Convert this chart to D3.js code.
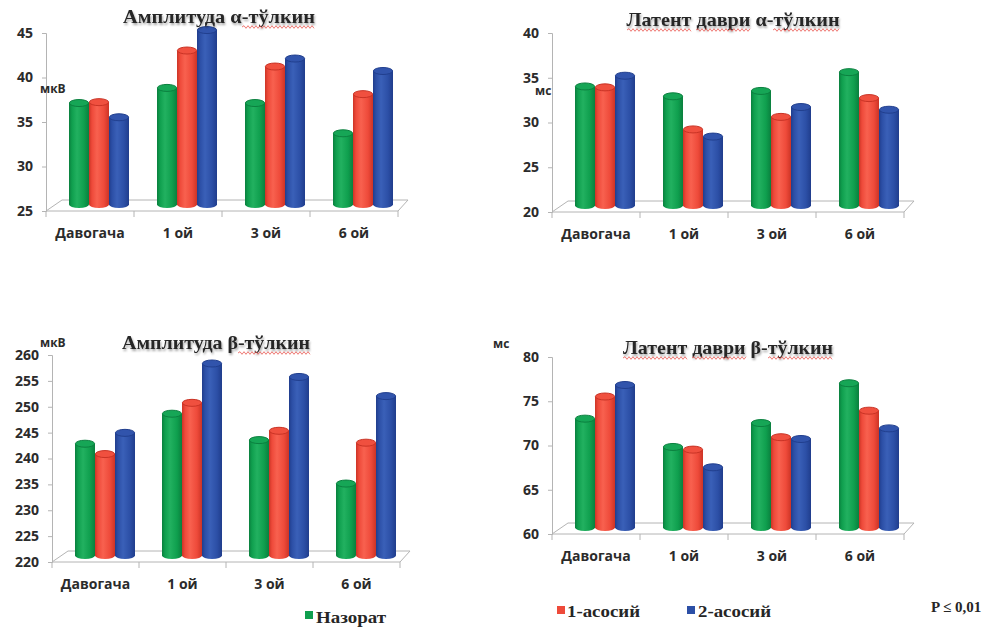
<!DOCTYPE html>
<html>
<head>
<meta charset="utf-8">
<script src="https://cdn.jsdelivr.net/npm/d3@7"></script>
<style>
  body { margin: 0; background: #fff; }
  svg { display: block; }
</style>
</head>
<body>
<svg id="chart" width="989" height="628"></svg>
<script>
// ---- data ----
const categories = ["Давогача", "1 ой", "3 ой", "6 ой"];
const seriesNames = ["Назорат", "1-асосий", "2-асосий"];

// Амплитуда α-тўлкин (мкВ)
const ampAlphaNazorat = [36.4, 38.1, 36.4, 33.0];
const ampAlphaAsosiy1 = [36.5, 42.3, 40.5, 37.4];
const ampAlphaAsosiy2 = [34.8, 44.6, 41.4, 40.0];
const ampAlphaTicks = [25, 30, 35, 40, 45];

// Латент даври α-тўлкин (мс)
const latAlphaNazorat = [33.3, 32.2, 32.8, 34.9];
const latAlphaAsosiy1 = [33.2, 28.5, 29.9, 32.0];
const latAlphaAsosiy2 = [34.5, 27.7, 31.0, 30.7];
const latAlphaTicks = [20, 25, 30, 35, 40];

// Амплитуда β-тўлкин (мкВ)
const ampBetaNazorat = [241.6, 247.4, 242.3, 233.9];
const ampBetaAsosiy1 = [239.6, 249.5, 244.1, 241.8];
const ampBetaAsosiy2 = [243.7, 257.1, 254.5, 250.8];
const ampBetaTicks = [220, 225, 230, 235, 240, 245, 250, 255, 260];

// Латент даври β-тўлкин (мс)
const latBetaNazorat = [72.3, 69.1, 71.8, 76.3];
const latBetaAsosiy1 = [74.8, 68.8, 70.2, 73.2];
const latBetaAsosiy2 = [76.1, 66.8, 70.0, 71.2];
const latBetaTicks = [60, 65, 70, 75, 80];

// ---- styling ----
const seriesColors = [
  { base: "#0f9f4e", light: "#22b160", dark: "#0a7f3e", top: "#16a656", rim: "#0b803f" },
  { base: "#ee4a3a", light: "#f8614f", dark: "#cc3426", top: "#f0503f", rim: "#c93325" },
  { base: "#2c4fa6", light: "#3a60b8", dark: "#203d8c", top: "#3154ac", rim: "#213f8e" }
];

const svg = d3.select("#chart");
const defs = svg.append("defs");

seriesColors.forEach((c, i) => {
  const g = defs.append("linearGradient").attr("id", "cyl" + i)
    .attr("x1", "0%").attr("x2", "100%").attr("y1", "0%").attr("y2", "0%");
  g.append("stop").attr("offset", "0%").attr("stop-color", c.dark);
  g.append("stop").attr("offset", "15%").attr("stop-color", c.base);
  g.append("stop").attr("offset", "40%").attr("stop-color", c.light);
  g.append("stop").attr("offset", "75%").attr("stop-color", c.base);
  g.append("stop").attr("offset", "100%").attr("stop-color", c.dark);
});

const shadow = defs.append("filter").attr("id", "tshadow")
  .attr("x", "-5%").attr("y", "-30%").attr("width", "110%").attr("height", "160%");
shadow.append("feGaussianBlur").attr("in", "SourceAlpha").attr("stdDeviation", 1.2).attr("result", "b");
shadow.append("feOffset").attr("in", "b").attr("dx", 1).attr("dy", 1.5).attr("result", "o");
shadow.append("feComponentTransfer").attr("in", "o").attr("result", "s")
  .append("feFuncA").attr("type", "linear").attr("slope", 0.35);
const merge = shadow.append("feMerge");
merge.append("feMergeNode").attr("in", "s");
merge.append("feMergeNode").attr("in", "SourceGraphic");

const panels = [
  { title: "Амплитуда α-тўлкин", underline: [[11, 18]], unit: "мкВ",
    series: [ampAlphaNazorat, ampAlphaAsosiy1, ampAlphaAsosiy2], ticks: ampAlphaTicks,
    x0: 46, yBase: 211, yTop: 33, band: 88, tx: 219, ty: 23, tw: 192, ux: 40, uy: 93 },
  { title: "Латент даври α-тўлкин", underline: [[0, 6], [7, 12], [15, 21]], unit: "мс",
    series: [latAlphaNazorat, latAlphaAsosiy1, latAlphaAsosiy2], ticks: latAlphaTicks,
    x0: 552, yBase: 212, yTop: 33, band: 88, tx: 733, ty: 26, tw: 213, ux: 535, uy: 95 },
  { title: "Амплитуда β-тўлкин", underline: [[11, 18]], unit: "мкВ",
    series: [ampBetaNazorat, ampBetaAsosiy1, ampBetaAsosiy2], ticks: ampBetaTicks,
    x0: 52, yBase: 562, yTop: 355, band: 87, tx: 216, ty: 349, tw: 188, ux: 40, uy: 347 },
  { title: "Латент даври β-тўлкин", underline: [[0, 6], [7, 12], [15, 21]], unit: "мс",
    series: [latBetaNazorat, latBetaAsosiy1, latBetaAsosiy2], ticks: latBetaTicks,
    x0: 552, yBase: 534, yTop: 357, band: 88, tx: 728, ty: 354, tw: 210, ux: 493, uy: 348 }
];

const axisColor = "#b4b4b4";
const depthL = 16, depthR = 10, depthY = 11;
const barW = 20, ry = 3.5, lift = 6.5;

function wavy(x1, x2, y) {
  let d = "M" + x1 + "," + y;
  let up = true;
  for (let x = x1 + 2; x <= x2; x += 2) {
    d += " L" + x + "," + (y + (up ? -1.3 : 1.3));
    up = !up;
  }
  return d;
}

panels.forEach(p => {
  const g = svg.append("g");
  const xEnd = p.x0 + p.band * categories.length;
  const y = d3.scaleLinear()
    .domain([p.ticks[0], p.ticks[p.ticks.length - 1]])
    .range([p.yBase, p.yTop]);
  const x = d3.scaleBand().domain(categories).range([p.x0, xEnd]).padding(0);
  const xs = d3.scaleBand().domain(seriesNames).range([23, 23 + barW * 3]).padding(0);

  // floor of the 3-D plot area
  g.append("path")
    .attr("d", `M${p.x0},${p.yBase} L${p.x0 + depthL},${p.yBase - depthY} L${xEnd + depthR},${p.yBase - depthY} L${xEnd},${p.yBase}`)
    .attr("fill", "none").attr("stroke", axisColor).attr("stroke-width", 1);

  // value axis
  const yAxis = d3.axisLeft(y).tickValues(p.ticks).tickSize(4).tickPadding(9).tickFormat(d3.format("d"));
  const ya = g.append("g").attr("transform", `translate(${p.x0},0)`).call(yAxis);
  ya.select(".domain").attr("stroke", axisColor);
  ya.selectAll(".tick line").attr("stroke", axisColor);
  ya.selectAll(".tick text")
    .attr("fill", "#2b2b2b").attr("font-family", "'Open Sans', sans-serif")
    .attr("font-weight", "bold").attr("font-size", 14);

  // category axis
  const xAxis = d3.axisBottom(x).tickSize(0).tickPadding(0);
  const xa = g.append("g").attr("transform", `translate(0,${p.yBase})`).call(xAxis);
  xa.select(".domain").attr("stroke", axisColor).attr("d", `M${p.x0},0H${xEnd}`);
  xa.selectAll(".tick text")
    .attr("y", 27).attr("dy", 0)
    .attr("fill", "#2b2b2b").attr("font-family", "'Open Sans', sans-serif")
    .attr("font-weight", "bold").attr("font-size", 14);
  g.append("g").selectAll("line")
    .data(d3.range(categories.length + 1))
    .join("line")
    .attr("x1", i => p.x0 + i * p.band).attr("x2", i => p.x0 + i * p.band)
    .attr("y1", p.yBase).attr("y2", p.yBase + 6)
    .attr("stroke", axisColor);

  // cylinders
  categories.forEach((cat, ci) => {
    p.series.forEach((vals, si) => {
      const c = seriesColors[si];
      const xl = x(cat) + xs(seriesNames[si]);
      const cx = xl + barW / 2;
      const yb = y(p.ticks[0]) - lift;
      const yt = y(vals[ci]) - lift;
      const bar = g.append("g");
      bar.append("path")
        .attr("d", `M${xl},${yt} L${xl},${yb} A${barW / 2},${ry} 0 0 0 ${xl + barW},${yb} L${xl + barW},${yt} Z`)
        .attr("fill", `url(#cyl${si})`);
      bar.append("ellipse")
        .attr("cx", cx).attr("cy", yt).attr("rx", barW / 2 - 0.4).attr("ry", ry)
        .attr("fill", c.top).attr("stroke", c.rim).attr("stroke-width", 1);
    });
  });

  // unit label
  g.append("text")
    .attr("x", p.ux).attr("y", p.uy)
    .attr("fill", "#2b2b2b").attr("font-family", "'Open Sans', sans-serif")
    .attr("font-weight", "bold").attr("font-size", 12)
    .text(p.unit);

  // title with spell-check style underlines
  const t = g.append("text")
    .attr("x", p.tx).attr("y", p.ty)
    .attr("text-anchor", "middle")
    .attr("fill", "#262626").attr("font-family", "'Liberation Serif', 'Times New Roman', serif")
    .attr("font-weight", "bold").attr("font-size", 19)
    .attr("textLength", p.tw).attr("lengthAdjust", "spacingAndGlyphs")
    .attr("filter", "url(#tshadow)")
    .text(p.title);
  const node = t.node();
  p.underline.forEach(([a, b]) => {
    const x1 = node.getStartPositionOfChar(a).x;
    const x2 = node.getEndPositionOfChar(b - 1).x;
    g.append("path")
      .attr("d", wavy(Math.round(x1), Math.round(x2), p.ty + 4))
      .attr("fill", "none").attr("stroke", "#e8504a").attr("stroke-width", 0.9)
      .attr("opacity", 0.85);
  });
});

// legend
const legendItems = [
  { name: seriesNames[0], sx: 305, sy: 611, tx: 316, ty: 623, w: 70 },
  { name: seriesNames[1], sx: 557, sy: 606, tx: 567, ty: 617, w: 73 },
  { name: seriesNames[2], sx: 687, sy: 606, tx: 698, ty: 617, w: 73 }
];
const lg = svg.append("g");
legendItems.forEach((it, i) => {
  lg.append("rect").attr("x", it.sx).attr("y", it.sy).attr("width", 8).attr("height", 8)
    .attr("fill", seriesColors[i].base);
  lg.append("text").attr("x", it.tx).attr("y", it.ty)
    .attr("fill", "#262626").attr("font-family", "'Liberation Serif', serif")
    .attr("font-weight", "bold").attr("font-size", 16)
    .attr("textLength", it.w).attr("lengthAdjust", "spacingAndGlyphs")
    .text(it.name);
});
lg.append("text").attr("x", 931).attr("y", 612)
  .attr("fill", "#262626").attr("font-family", "'Liberation Serif', serif")
  .attr("font-weight", "bold").attr("font-size", 15)
  .text("P ≤ 0,01");
</script>
</body>
</html>
